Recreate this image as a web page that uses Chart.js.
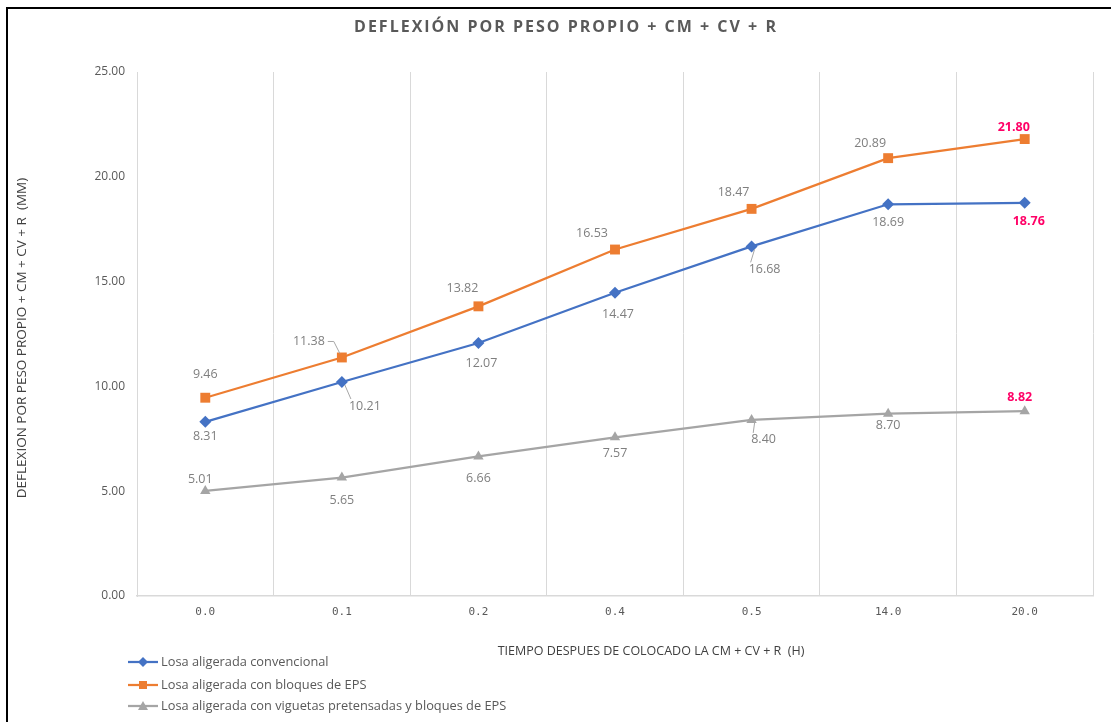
<!DOCTYPE html>
<html>
<head>
<meta charset="utf-8">
<script src="https://cdn.jsdelivr.net/npm/chart.js@4/dist/chart.umd.min.js"></script>
<style>
  html, body { margin: 0; padding: 0; background: #ffffff; }
  #wrap { width: 1111px; height: 722px; position: relative; }
</style>
</head>
<body>
<div id="wrap"><canvas id="c" width="1111" height="722"></canvas></div>
<script>
// Time after applying CM + CV + R (hours)
const categories = ['0.0', '0.1', '0.2', '0.4', '0.5', '14.0', '20.0'];

// Deflection (mm) per slab type
const losaConvencional = [8.31, 10.21, 12.07, 14.47, 16.68, 18.69, 18.76];
const losaBloquesEPS   = [9.46, 11.38, 13.82, 16.53, 18.47, 20.89, 21.80];
const losaViguetasEPS  = [5.01, 5.65, 6.66, 7.57, 8.40, 8.70, 8.82];

const seriesNames = [
  'Losa aligerada convencional',
  'Losa aligerada con bloques de EPS',
  'Losa aligerada con viguetas pretensadas y bloques de EPS'
];

const yTicks = [0, 5, 10, 15, 20, 25];

const COLORS = ['#4472C4', '#ED7D31', '#A5A5A5'];
const MARKERS = ['rectRot', 'rect', 'triangle'];
const LABEL_GREY = '#7F7F7F';
const LABEL_PINK = '#FF0066';

// Label placement relative to each point: [dx, dy, leader, highlight]
const labelPlacement = [
  [[0, 15], [23, 24, 1], [3, 20], [3, 22], [13, 23, 1], [0, 18], [4, 19, 0, 1]],
  [[0, -23], [-33, -16, 1], [-16, -18], [-23, -16], [-18, -16], [-18, -15], [-11, -12, 0, 1]],
  [[-5, -12], [0, 23], [0, 22], [0, 16], [12, 20, 1], [0, 12], [-5, -14, 0, 1]]
];

const FONT = '"Open Sans", "Liberation Sans", sans-serif';

const overlay = {
  id: 'overlay',
  afterDatasetsDraw(chart) {
    const ctx = chart.ctx;
    ctx.save();
    // data labels
    chart.data.datasets.forEach((ds, di) => {
      const meta = chart.getDatasetMeta(di);
      meta.data.forEach((pt, i) => {
        const p = labelPlacement[di][i];
        const x = pt.x + p[0], y = pt.y + p[1];
        const txt = ds.data[i].toFixed(2);
        ctx.font = (p[3] ? 'bold ' : '') + '12.5px ' + FONT;
        const w = ctx.measureText(txt).width;
        if (p[2]) {
          ctx.strokeStyle = '#A6A6A6';
          ctx.lineWidth = 1;
          ctx.beginPath();
          if (p[0] < 0) {
            ctx.moveTo(x + w / 2 + 3, y);
            ctx.lineTo(x + w / 2 + 9, y);
            ctx.lineTo(pt.x - 2, pt.y - 4);
          } else {
            ctx.moveTo(x - w / 2 + 2, y - 7);
            ctx.lineTo(pt.x + 3, pt.y + 3);
          }
          ctx.stroke();
        }
        ctx.fillStyle = p[3] ? LABEL_PINK : LABEL_GREY;
        ctx.textAlign = 'center';
        ctx.textBaseline = 'middle';
        ctx.fillText(txt, x, y);
      });
    });
    ctx.restore();
  },
  afterDraw(chart) {
    const ctx = chart.ctx;
    ctx.save();
    // outer frame (left and top edges)
    ctx.strokeStyle = '#000000';
    ctx.lineWidth = 2;
    ctx.beginPath();
    ctx.moveTo(7, 722);
    ctx.lineTo(7, 8);
    ctx.lineTo(1111, 8);
    ctx.stroke();

    // title
    ctx.fillStyle = '#595959';
    ctx.font = 'bold 16px ' + FONT;
    ctx.textAlign = 'center';
    ctx.textBaseline = 'middle';
    ctx.letterSpacing = '2px';
    ctx.fillText('DEFLEXIÓN POR PESO PROPIO + CM + CV + R', 566, 27);
    ctx.letterSpacing = '0px';

    // axis titles
    ctx.font = '12.5px ' + FONT;
    ctx.fillStyle = '#404040';
    ctx.fillText('TIEMPO DESPUES DE COLOCADO LA CM + CV + R  (H)', 651, 651);
    ctx.save();
    ctx.translate(22, 338);
    ctx.rotate(-Math.PI / 2);
    ctx.font = '13.5px ' + FONT;
    ctx.fillText('DEFLEXION POR PESO PROPIO + CM + CV + R  (MM)', 0, 0);
    ctx.restore();

    // legend
    const legendY = [662, 685, 706];
    seriesNames.forEach((name, i) => {
      const y = legendY[i];
      ctx.strokeStyle = COLORS[i];
      ctx.lineWidth = 2.25;
      ctx.beginPath();
      ctx.moveTo(128, y);
      ctx.lineTo(158, y);
      ctx.stroke();
      ctx.fillStyle = COLORS[i];
      ctx.beginPath();
      if (i === 0) {
        ctx.moveTo(143, y - 5); ctx.lineTo(148, y); ctx.lineTo(143, y + 5); ctx.lineTo(138, y);
      } else if (i === 1) {
        ctx.rect(139, y - 4, 8, 8);
      } else {
        ctx.moveTo(143, y - 5); ctx.lineTo(148, y + 4); ctx.lineTo(138, y + 4);
      }
      ctx.closePath();
      ctx.fill();
      ctx.fillStyle = '#595959';
      ctx.font = '12.8px ' + FONT;
      ctx.textAlign = 'left';
      ctx.fillText(name, 161, y);
    });
    ctx.restore();
  }
};

const seriesData = [losaConvencional, losaBloquesEPS, losaViguetasEPS];

new Chart(document.getElementById('c'), {
  type: 'line',
  data: {
    labels: categories,
    datasets: seriesData.map((d, i) => ({
      label: seriesNames[i],
      data: d,
      borderColor: COLORS[i],
      backgroundColor: COLORS[i],
      borderWidth: 2.25,
      pointStyle: MARKERS[i],
      pointRadius: i === 1 ? 7 : 6,
      pointBorderWidth: 0,
      tension: 0,
      fill: false
    }))
  },
  options: {
    responsive: false,
    animation: false,
    devicePixelRatio: 1,
    layout: { padding: { top: 72, right: 18, bottom: 0, left: 0 } },
    plugins: {
      legend: { display: false },
      title: { display: false },
      tooltip: { enabled: false }
    },
    scales: {
      x: {
        type: 'category',
        offset: true,
        grid: { display: true, offset: true, color: '#D9D9D9', lineWidth: 1, drawTicks: false },
        border: { display: true, color: '#D9D9D9', width: 1.5 },
        ticks: {
          color: '#595959',
          font: { family: '"DejaVu Sans Mono", monospace', size: 11 },
          padding: 10,
          maxRotation: 0
        },
        afterFit(scale) { scale.height = 126; }
      },
      y: {
        min: 0,
        max: 25,
        afterBuildTicks(scale) { scale.ticks = yTicks.map(v => ({ value: v })); },
        grid: { display: false, drawTicks: false },
        border: { display: true, color: '#D9D9D9', width: 1 },
        ticks: {
          color: '#595959',
          font: { family: FONT, size: 12 },
          padding: 12,
          callback: v => Number(v).toFixed(2)
        },
        afterFit(scale) { scale.width = 137; }
      }
    }
  },
  plugins: [overlay]
});
</script>
</body>
</html>
